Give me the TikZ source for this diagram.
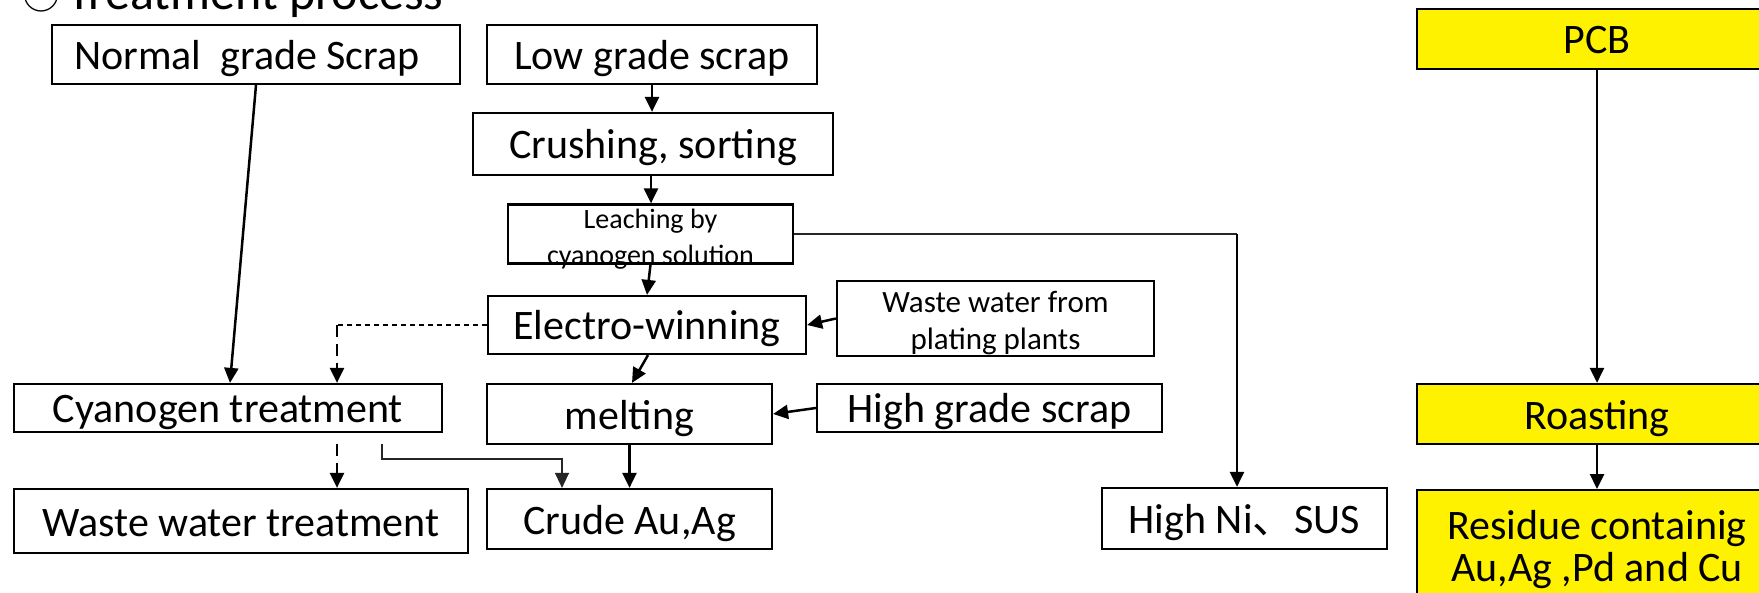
\documentclass[tikz,border=0pt]{standalone}
\usepackage{fontspec}
\setmainfont{Carlito}
\newfontfamily\cjkfont{Noto Sans CJK JP}
\usetikzlibrary{arrows.meta}
\newcommand{\shiftdown}[2]{\raisebox{-#1}[\height][\depth]{#2}}
\newcommand{\flatdown}[2]{\raisebox{-#1}[0pt][0pt]{#2}}
\begin{document}
\begin{tikzpicture}[x=1pt,y=-1pt,
  box/.style={draw=black, line width=2.2pt, fill=white, inner sep=0pt, align=center,
              font=\fontsize{42}{46}\selectfont},
  one/.style={text height=30pt, text depth=0pt},
  ybox/.style={box, fill=yellow},
  tip/.style={-{Triangle[length=15pt,width=14pt]}},
  arr/.style={line width=2.5pt, tip},
  thinarr/.style={line width=1.4pt, draw=black!85, tip},
  thinline/.style={line width=1.4pt, draw=black!85},
  finedash/.style={line width=1.3pt, dash pattern=on 5pt off 4pt},
  dasharr/.style={line width=2.5pt, dash pattern=on 12pt off 7pt, tip}
]
\useasboundingbox (0,0) rectangle (1759,593);
\clip (0,0) rectangle (1759,593);

% title
\node[anchor=base west, inner sep=0pt, font=\fontsize{50}{60}\selectfont] (title) at (22,10)
  {{\cjkfont\fontsize{38}{40}\selectfont ○}\hspace{7pt}Treatment process};

% left chain
\node[box, one, minimum width=408, minimum height=59] (normal) at (256,54.5) {Normal\ \ grade Scrap\hspace*{18pt}};
\node[box, one, minimum width=330, minimum height=59] (low) at (652,54.5) {Low grade scrap};
\node[box, one, minimum width=360, minimum height=62] (crush) at (653,144) {Crushing, sorting};
\node[box, minimum width=285, minimum height=59, font=\fontsize{28}{36}\selectfont] (leach) at (650.5,234)
  {\flatdown{12pt}{\begin{tabular}{@{}c@{}}Leaching by\\cyanogen solution\end{tabular}}};
\node[box, one, minimum width=318, minimum height=58] (electro) at (647,325) {Electro-winning};
\node[box, minimum width=317, minimum height=75, font=\fontsize{31}{37}\selectfont] (wwplate) at (995.5,318.5)
  {\shiftdown{5pt}{\begin{tabular}{@{}c@{}}Waste water from\\plating plants\end{tabular}}};
\node[box, one, minimum width=428, minimum height=48] (cyan) at (228,408) {Cyanogen treatment};
\node[box, one, minimum width=285, minimum height=60] (melting) at (629.5,414) {melting};
\node[box, one, minimum width=345, minimum height=48] (highgrade) at (989.5,408) {High grade scrap};
\node[box, one, minimum width=454, minimum height=64] (wwtreat) at (241,521) {Waste water treatment};
\node[box, one, minimum width=285, minimum height=60] (crude) at (629.5,519) {Crude Au,Ag};
\node[box, one, minimum width=285, minimum height=61] (highni) at (1244.5,518.5) {High Ni{\cjkfont 、}SUS};

% right chain
\node[ybox, one, minimum width=360, minimum height=60] (pcb) at (1597,39) {PCB};
\node[ybox, one, minimum width=360, minimum height=60] (roast) at (1597,414) {Roasting};
\node[ybox, minimum width=360, minimum height=130, anchor=north, font=\fontsize{42}{42}\selectfont] (residue) at (1597,489)
  {\shiftdown{-3pt}{\begin{tabular}{@{}c@{}}Residue containig\\Au,Ag ,Pd and Cu\end{tabular}}};

% connectors
\draw[arr] (normal.south) -- ([xshift=2pt]cyan.north);
\draw[arr] (low.south) -- (low.south |- crush.north);
\draw[arr] ([xshift=-2pt]crush.south) -- ([xshift=-2pt]crush.south |- leach.north);
\draw[arr] (leach.south) -- (electro.north);
\coordinate (n1) at ([xshift=-7.5pt]highni.north |- leach.east);
\draw[thinline] (leach.east) -- (n1);
\draw[arr] (n1) -- ([xshift=-7.5pt]highni.north);
\draw[arr] (wwplate.west) -- (electro.east);
\draw[arr] ([xshift=1pt]electro.south) -- ([xshift=2.5pt]melting.north);

\coordinate (d1) at (337,325);
\draw[finedash] (electro.west) -- (d1);
\draw[dasharr] (d1) -- (d1 |- cyan.north);
\coordinate (d2) at (337,444);
\draw[dasharr] (d2) -- (d2 |- wwtreat.north);

\coordinate (t1) at (382,444);
\draw[thinarr] (t1) -- ++(0,15) -| ([xshift=-67.5pt]crude.north);
\draw[arr] (melting.south) -- (crude.north);
\draw[arr] (highgrade.west) -- (melting.east);

\draw[arr] (pcb.south) -- (roast.north);
\draw[arr] (roast.south) -- (residue.north);
\end{tikzpicture}
\end{document}
